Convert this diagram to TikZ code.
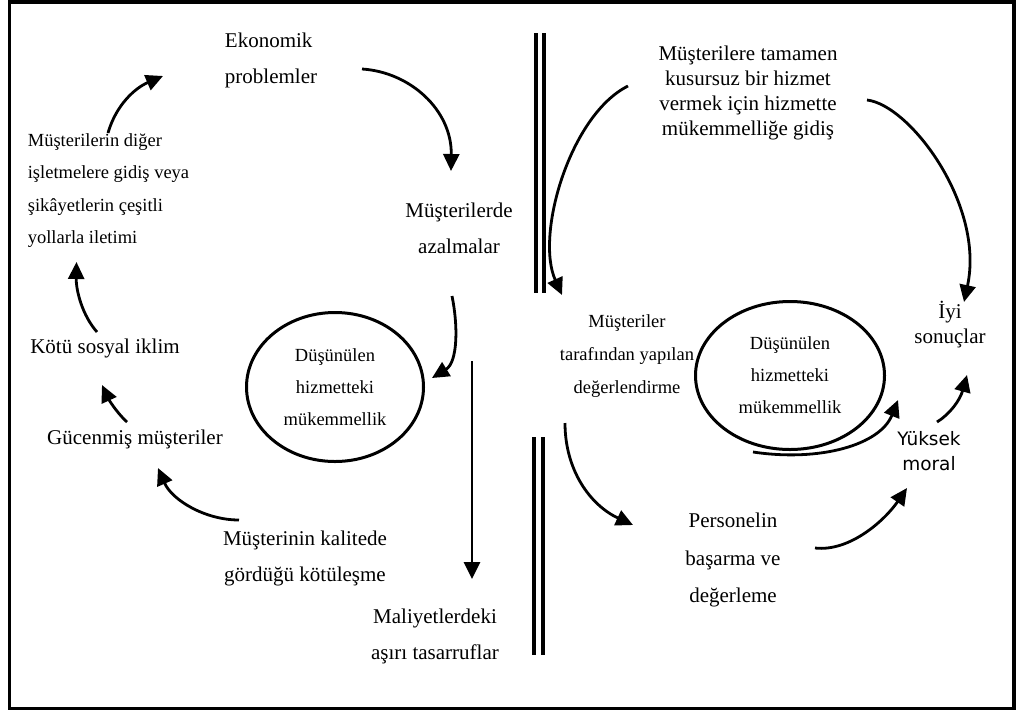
\documentclass[tikz,border=0pt]{standalone}
\usepackage{fontspec}
\setmainfont{Liberation Serif}
\newfontfamily\moralfont{DejaVu Sans}
\usetikzlibrary{arrows.meta,shapes.geometric,calc}
\begin{document}
\begin{tikzpicture}[x=1pt,y=-1pt,
  lbl/.style={inner sep=0pt, align=center, font=\fontsize{21}{36}\selectfont},
  lbltight/.style={inner sep=0pt, align=center, font=\fontsize{21}{25}\selectfont},
  sm/.style={inner sep=0pt, align=center, font=\fontsize{18.5}{32.5}\selectfont},
  oval/.style={draw, ellipse, line width=3pt, inner sep=0pt, align=center,
    font=\fontsize{18.5}{32}\selectfont},
  arr/.style={line width=2.8pt, -{Triangle[length=17pt,width=16pt]}},
  bar/.style={line width=4pt}]
\useasboundingbox (0,0) rectangle (1019,713);
% frame
\draw[line width=3.5pt] (9.5,2) rectangle (1014,708.5);

% left cycle
\node[lbl, align=left] (econ) at (271,60) {Ekonomik\\problemler};
\node[lbl] (azal) at (459,228) {Müşterilerde\\azalmalar};
\node[sm, align=left] (gidis) at (108.5,190.5)
  {Müşterilerin diğer\\işletmelere gidiş veya\\şikâyetlerin çeşitli\\yollarla iletimi};
\node[lbl] (kotu) at (105,348) {Kötü sosyal iklim};
\node[lbl] (gucen) at (135,439) {Gücenmiş müşteriler};
\node[oval, minimum width=177pt, minimum height=149pt] (e1) at (335,387)
  {Düşünülen\\hizmetteki\\mükemmellik};
\node[lbl] (kalite) at (305,558) {Müşterinin kalitede\\gördüğü kötüleşme};
\node[lbl] (maliyet) at (435,636) {Maliyetlerdeki\\aşırı tasarruflar};

% separating double bars
\draw[bar] (536,33) -- (536,293);
\draw[bar] (544,33) -- (544,293);
\draw[bar] (534,437) -- (534,655);
\draw[bar] (543,437) -- (543,655);

% right cycle
\node[lbltight] (mukem) at (748,92.5)
  {Müşterilere tamamen\\kusursuz bir hizmet\\vermek için hizmette\\mükemmelliğe gidiş};
\node[sm, font=\fontsize{18.5}{33}\selectfont] (degerl) at (627,356)
  {Müşteriler\\tarafından yapılan\\değerlendirme};
\node[oval, minimum width=189pt, minimum height=148pt] (e2) at (790,375.5)
  {Düşünülen\\hizmetteki\\mükemmellik};
\node[lbltight] (iyi) at (950,325) {İyi\\sonuçlar};
\node[inner sep=0pt, align=center, font=\moralfont\fontsize{18.5}{25}\selectfont]
  (yuksek) at (929,451) {Yüksek\\moral};
\node[lbl, font=\fontsize{21}{37.5}\selectfont] (personel) at (733,560)
  {Personelin\\başarma ve\\değerleme};

% connectors, left
\draw[arr] ($(econ.center)+(91,9)$) .. controls (410,72) and (452,110) .. ($(azal.center)+(-8,-57)$);
\draw[arr] ($(azal.center)+(-7,68)$) .. controls (458,325) and (458,362) .. ($(e1.center)+(97,-9)$);
\draw[arr] ($(maliyet.center)+(37,-275)$) -- ($(maliyet.center)+(37,-57)$);
\draw[arr] ($(kalite.center)+(-66,-38)$) .. controls (205,520) and (172,500) .. ($(gucen.center)+(23,29)$);
\draw[arr] ($(gucen.center)+(-8,-17)$) .. controls (116,412) and (108,398) .. ($(kotu.center)+(-3,37)$);
\draw[arr] ($(kotu.center)+(-8,-16)$) .. controls (82,315) and (76,290) .. ($(gidis.center)+(-32,71.5)$);
\draw[arr] ($(gidis.center)+(-0.5,-57.5)$) .. controls (116,105) and (135,88) .. ($(econ.center)+(-108,16)$);

% connectors, right
\draw[arr] ($(mukem.center)+(-120,-6.5)$) .. controls (570,115) and (535,235) .. ($(degerl.center)+(-65,-61)$);
\draw[arr] ($(mukem.center)+(119,7.5)$) .. controls (910,105) and (985,205) .. ($(iyi.center)+(14,-23)$);
\draw[arr] ($(degerl.center)+(-62,67)$) .. controls (565,470) and (590,505) .. ($(personel.center)+(-100,-35)$);
\draw[arr] ($(personel.center)+(82,-12)$) .. controls (850,552) and (885,520) .. ($(yuksek.center)+(-22,37)$);
\draw[arr] ($(yuksek.center)+(8,-29)$) .. controls (950,414) and (960,400) .. ($(iyi.center)+(17,50)$);
\draw[arr] ($(e2.center)+(-37,76.5)$) .. controls (820,462) and (880,445) .. ($(yuksek.center)+(-31,-51)$);
\end{tikzpicture}
\end{document}
